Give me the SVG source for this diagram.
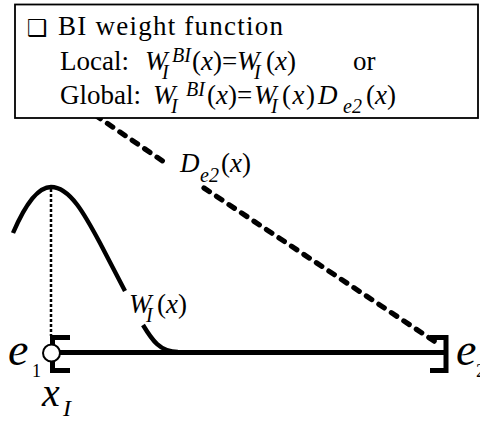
<svg xmlns="http://www.w3.org/2000/svg" width="480" height="421" viewBox="0 0 480 421">
<style>
text{font-family:"Liberation Serif","Times New Roman",serif;fill:#000}
.m{font-size:27px}
.s{font-size:20px}
.i{font-style:italic}
.thick{fill:none;stroke:#000;stroke-width:5}
.dash{fill:none;stroke:#000;stroke-width:5.2;stroke-linecap:round;stroke-dasharray:6.5 8.5}
.curve{fill:none;stroke:#000;stroke-width:4.4}
</style>
<g id="connectors">
<path class="dash" d="M95,115 L167,164"/>
<path class="dash" d="M204,188 L437,343"/>
<path class="curve" d="M13,233 C25,205 38,187 51,187 C70,187 85,215 100,243 L125,291"/>
<path class="curve" d="M143,325 C152,340 160,352 178,352"/>
<line x1="51" y1="189" x2="51" y2="336" stroke="#000" stroke-width="2.5" stroke-dasharray="3 2"/>
<line x1="58" y1="352.5" x2="446" y2="352.5" stroke="#000" stroke-width="5"/>
</g>
<g id="legend">
<rect x="15" y="4.5" width="463" height="113.5" fill="#fff" stroke="#000" stroke-width="1.8"/>
<text x="27" y="36" style="font-family:'DejaVu Sans',sans-serif;font-size:23px">❑</text>
<text class="m" x="58" y="35" textLength="225" lengthAdjust="spacing">BI weight function</text>
<text class="m" x="60" y="69.5">Local:</text>
<text class="m i" x="145" y="69.5">W</text>
<text class="s i" x="162" y="79">I</text>
<text class="s i" x="172" y="62">BI</text>
<text class="m" x="192" y="69.5">(<tspan class="i">x</tspan>)=</text>
<text class="m i" x="237" y="69.5">W</text>
<text class="s i" x="254" y="79">I</text>
<text class="m" x="266" y="69.5">(<tspan class="i">x</tspan>)</text>
<text class="m" x="353" y="69.5">or</text>
<text class="m" x="60" y="104">Global:</text>
<text class="m i" x="153" y="104">W</text>
<text class="s i" x="171" y="113">I</text>
<text class="s i" x="186" y="96">BI</text>
<text class="m" x="207" y="104">(<tspan class="i">x</tspan>)=</text>
<text class="m i" x="254" y="104">W</text>
<text class="s i" x="271" y="113">I</text>
<text class="m" x="282" y="104" letter-spacing="1.5">(<tspan class="i">x</tspan>)</text>
<text class="m i" x="318" y="104">D</text>
<text class="s i" x="343" y="113">e2</text>
<text class="m" x="366" y="104">(<tspan class="i">x</tspan>)</text>
</g>
<g id="label-De2">
<text class="m i" x="180" y="172">D</text>
<text class="s i" x="200" y="182">e2</text>
<text class="m" x="221" y="172">(<tspan class="i">x</tspan>)</text>
</g>
<g id="label-WI">
<text class="m i" x="129" y="313">W</text>
<text class="s i" x="146" y="322">I</text>
<text class="m" x="157" y="313">(<tspan class="i">x</tspan>)</text>
</g>
<g id="node-e1">
<path class="thick" d="M70,337.5 H52.5 V370.5 H70"/>
<circle cx="51.5" cy="353" r="8.5" fill="#fff" stroke="#000" stroke-width="2"/>
<text x="8" y="365" style="font-size:46px;font-style:italic">e</text>
<text x="32" y="377" style="font-size:18px">1</text>
</g>
<g id="node-e2">
<path class="thick" d="M430,337.5 H446 V370.5 H430"/>
<text x="456" y="365" style="font-size:46px;font-style:italic">e</text>
<text x="476" y="377" style="font-size:18px">2</text>
</g>
<g id="label-xI">
<text x="42" y="406" style="font-size:40px;font-style:italic">x</text>
<text x="63" y="416" style="font-size:24px;font-style:italic">I</text>
</g>
</svg>
